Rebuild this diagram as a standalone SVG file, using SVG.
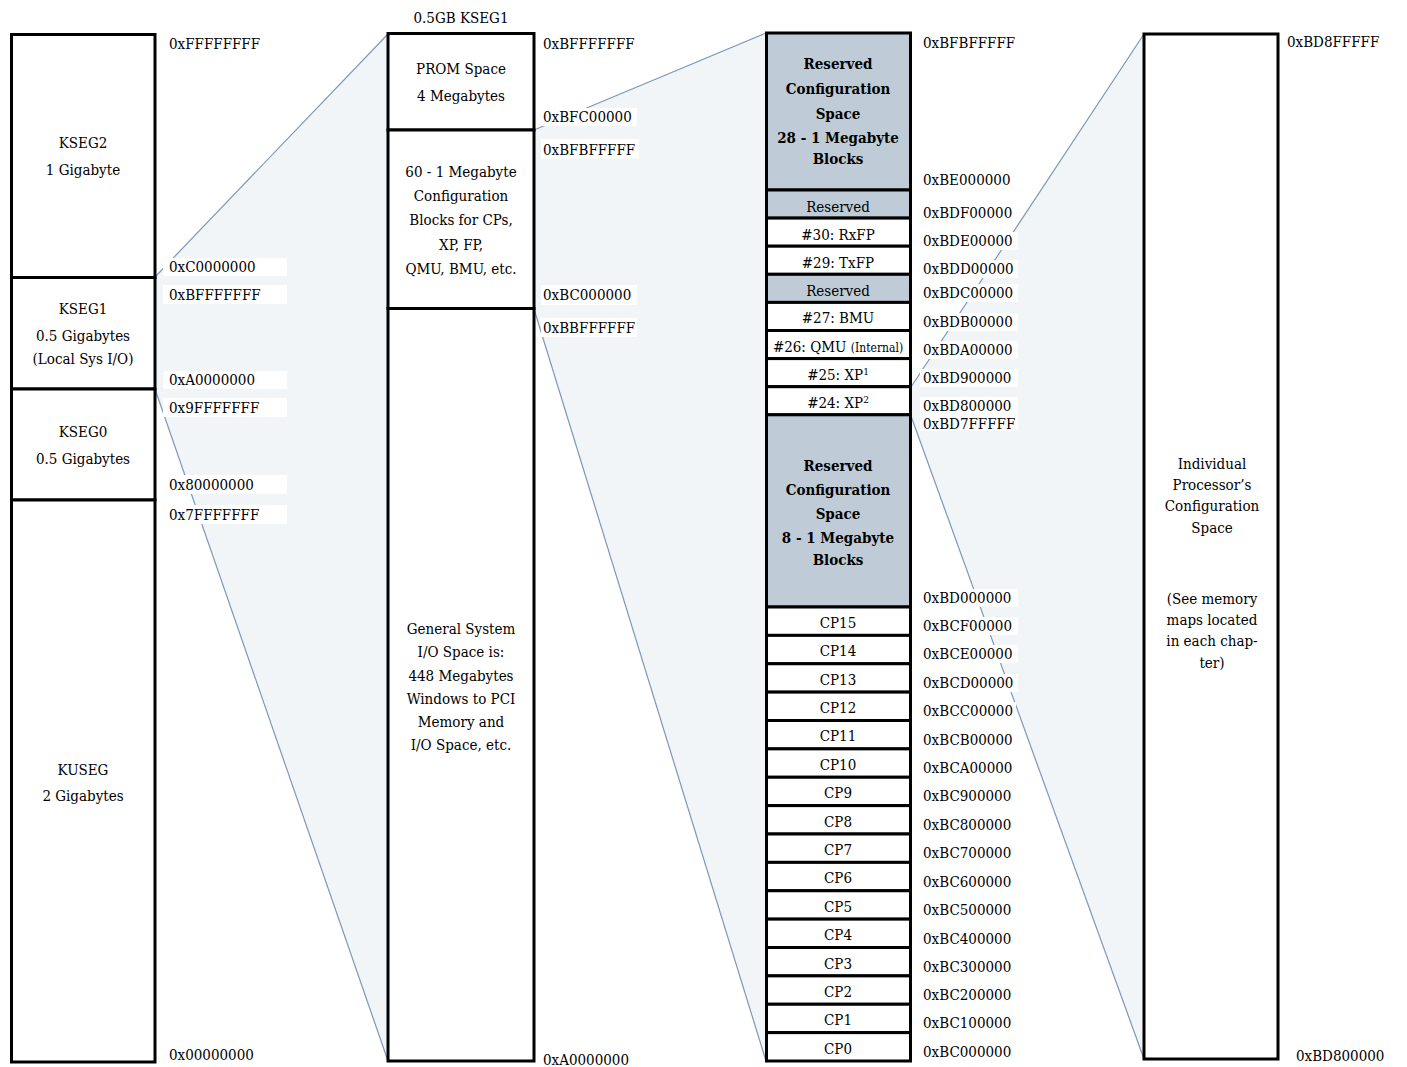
<svg xmlns="http://www.w3.org/2000/svg" width="1407" height="1067" viewBox="0 0 1407 1067">
<style>
text{font-family:"DejaVu Serif Condensed","DejaVu Serif","Liberation Serif",serif;font-size:15px;fill:#000}
.c{text-anchor:middle}
.b{font-weight:bold}
.box{fill:#fff;stroke:#000;stroke-width:3}
.gray{fill:#bfccd8;stroke:#000;stroke-width:3}
.shade{fill:#f1f5f7;stroke:none}
.edge{stroke:#7c98b8;stroke-width:1.2;fill:none}
.bg{fill:#fff}
.sm{font-size:12px}
.sup{font-size:10px}
</style>
<rect width="1407" height="1067" fill="#fff"/>
<g id="connectors">
<polygon class="shade" points="155,277 388,34 388,1061 155,389"/>
<line class="edge" x1="155" y1="277" x2="388" y2="34"/>
<line class="edge" x1="155" y1="389" x2="388" y2="1061"/>
<polygon class="shade" points="534,130 766,33 766,1061 534,309"/>
<line class="edge" x1="534" y1="130" x2="766" y2="33"/>
<line class="edge" x1="534" y1="309" x2="766" y2="1061"/>
<polygon class="shade" points="911,387 1144,34 1144,1059 911,416"/>
<line class="edge" x1="911" y1="387" x2="1144" y2="34"/>
<line class="edge" x1="911" y1="416" x2="1144" y2="1059"/>
</g>
<g id="col1">
<g id="kseg2"><rect class="box" x="11.5" y="34.5" width="143.5" height="243"/><text class="c" x="83" y="148">KSEG2</text><text class="c" x="83" y="175">1 Gigabyte</text></g>
<g id="kseg1"><rect class="box" x="11.5" y="277.5" width="143.5" height="111.5"/><text class="c" x="83" y="314">KSEG1</text><text class="c" x="83" y="341">0.5 Gigabytes</text><text class="c" x="83" y="364">(Local Sys I/O)</text></g>
<g id="kseg0"><rect class="box" x="11.5" y="389" width="143.5" height="111"/><text class="c" x="83" y="437">KSEG0</text><text class="c" x="83" y="464">0.5 Gigabytes</text></g>
<g id="kuseg"><rect class="box" x="11.5" y="500" width="143.5" height="562"/><text class="c" x="83" y="775">KUSEG</text><text class="c" x="83" y="801">2 Gigabytes</text></g>
</g>
<g id="col1-labels">
<text x="169" y="49">0xFFFFFFFF</text>
<rect class="bg" x="163" y="258" width="124" height="18"/><text x="169" y="272">0xC0000000</text>
<rect class="bg" x="163" y="285" width="124" height="19"/><text x="169" y="300">0xBFFFFFFF</text>
<rect class="bg" x="163" y="371" width="124" height="18"/><text x="169" y="385">0xA0000000</text>
<rect class="bg" x="163" y="398" width="124" height="19"/><text x="169" y="413">0x9FFFFFFF</text>
<rect class="bg" x="163" y="475" width="124" height="19"/><text x="169" y="490">0x80000000</text>
<rect class="bg" x="163" y="505" width="124" height="19"/><text x="169" y="520">0x7FFFFFFF</text>
<text x="169" y="1060">0x00000000</text>
</g>
<g id="col2">
<text class="c" x="461" y="23">0.5GB KSEG1</text>
<g id="prom"><rect class="box" x="388" y="33.5" width="146" height="96.5"/><text class="c" x="461" y="74">PROM Space</text><text class="c" x="461" y="101">4 Megabytes</text></g>
<g id="cfgblocks"><rect class="box" x="388" y="130" width="146" height="178.5"/><text class="c" x="461" y="177">60 - 1 Megabyte</text><text class="c" x="461" y="201">Configuration</text><text class="c" x="461" y="225">Blocks for CPs,</text><text class="c" x="461" y="250">XP, FP,</text><text class="c" x="461" y="274">QMU, BMU, etc.</text></g>
<g id="gensys"><rect class="box" x="388" y="308.5" width="146" height="752.5"/><text class="c" x="461" y="634">General System</text><text class="c" x="461" y="657">I/O Space is:</text><text class="c" x="461" y="681">448 Megabytes</text><text class="c" x="461" y="704">Windows to PCI</text><text class="c" x="461" y="727">Memory and</text><text class="c" x="461" y="750">I/O Space, etc.</text></g>
</g>
<g id="col2-labels">
<text x="543" y="49">0xBFFFFFFF</text>
<rect class="bg" x="541" y="108" width="96" height="18"/><text x="543" y="122">0xBFC00000</text>
<rect class="bg" x="541" y="139" width="98" height="20"/><text x="543" y="155">0xBFBFFFFF</text>
<rect class="bg" x="541" y="285" width="96" height="20"/><text x="543" y="300">0xBC000000</text>
<rect class="bg" x="541" y="318" width="96" height="19"/><text x="543" y="333">0xBBFFFFFF</text>
<text x="543" y="1065">0xA0000000</text>
</g>
<g id="col3">
<g id="res28"><rect class="gray" x="766.5" y="33" width="144" height="157"/><text class="c b" x="838" y="69">Reserved</text><text class="c b" x="838" y="94">Configuration</text><text class="c b" x="838" y="119">Space</text><text class="c b" x="838" y="143">28 - 1 Megabyte</text><text class="c b" x="838" y="164">Blocks</text></g>
<g id="res31"><rect class="gray" x="766.5" y="190" width="144" height="28.1"/><text class="c" x="838" y="212">Reserved</text></g>
<g id="n30"><rect class="box" x="766.5" y="218.1" width="144" height="28.1"/><text class="c" x="838" y="240">#30: RxFP</text></g>
<g id="n29"><rect class="box" x="766.5" y="246.2" width="144" height="28.1"/><text class="c" x="838" y="268">#29: TxFP</text></g>
<g id="res28b"><rect class="gray" x="766.5" y="274.3" width="144" height="28.1"/><text class="c" x="838" y="296">Reserved</text></g>
<g id="n27"><rect class="box" x="766.5" y="302.4" width="144" height="28.1"/><text class="c" x="838" y="323">#27: BMU</text></g>
<g id="n26"><rect class="box" x="766.5" y="330.5" width="144" height="28.1"/><text class="c" x="838" y="352">#26: QMU <tspan class="sm">(Internal)</tspan></text></g>
<g id="n25"><rect class="box" x="766.5" y="358.6" width="144" height="28.1"/><text class="c" x="838" y="380">#25: XP<tspan class="sup" dy="-5">1</tspan></text></g>
<g id="n24"><rect class="box" x="766.5" y="386.7" width="144" height="28.1"/><text class="c" x="838" y="408">#24: XP<tspan class="sup" dy="-5">2</tspan></text></g>
<g id="res8"><rect class="gray" x="766.5" y="414.8" width="144" height="192.2"/><text class="c b" x="838" y="471">Reserved</text><text class="c b" x="838" y="495">Configuration</text><text class="c b" x="838" y="519">Space</text><text class="c b" x="838" y="543">8 - 1 Megabyte</text><text class="c b" x="838" y="565">Blocks</text></g>
<g id="cp15"><rect class="box" x="766.5" y="607" width="144" height="28.375"/><text class="c" x="838" y="627.5">CP15</text></g>
<g id="cp14"><rect class="box" x="766.5" y="635.375" width="144" height="28.375"/><text class="c" x="838" y="656">CP14</text></g>
<g id="cp13"><rect class="box" x="766.5" y="663.75" width="144" height="28.375"/><text class="c" x="838" y="684.5">CP13</text></g>
<g id="cp12"><rect class="box" x="766.5" y="692.125" width="144" height="28.375"/><text class="c" x="838" y="713">CP12</text></g>
<g id="cp11"><rect class="box" x="766.5" y="720.5" width="144" height="28.375"/><text class="c" x="838" y="741.4">CP11</text></g>
<g id="cp10"><rect class="box" x="766.5" y="748.875" width="144" height="28.375"/><text class="c" x="838" y="769.8">CP10</text></g>
<g id="cp9"><rect class="box" x="766.5" y="777.25" width="144" height="28.375"/><text class="c" x="838" y="798.2">CP9</text></g>
<g id="cp8"><rect class="box" x="766.5" y="805.625" width="144" height="28.375"/><text class="c" x="838" y="826.6">CP8</text></g>
<g id="cp7"><rect class="box" x="766.5" y="834" width="144" height="28.375"/><text class="c" x="838" y="855">CP7</text></g>
<g id="cp6"><rect class="box" x="766.5" y="862.375" width="144" height="28.375"/><text class="c" x="838" y="883.4">CP6</text></g>
<g id="cp5"><rect class="box" x="766.5" y="890.75" width="144" height="28.375"/><text class="c" x="838" y="911.8">CP5</text></g>
<g id="cp4"><rect class="box" x="766.5" y="919.125" width="144" height="28.375"/><text class="c" x="838" y="940.2">CP4</text></g>
<g id="cp3"><rect class="box" x="766.5" y="947.5" width="144" height="28.375"/><text class="c" x="838" y="968.6">CP3</text></g>
<g id="cp2"><rect class="box" x="766.5" y="975.875" width="144" height="28.375"/><text class="c" x="838" y="997">CP2</text></g>
<g id="cp1"><rect class="box" x="766.5" y="1004.25" width="144" height="28.375"/><text class="c" x="838" y="1025.4">CP1</text></g>
<g id="cp0"><rect class="box" x="766.5" y="1032.625" width="144" height="28.375"/><text class="c" x="838" y="1053.8">CP0</text></g>
</g>
<g id="col3-labels">
<text x="923" y="48">0xBFBFFFFF</text>
<text x="923" y="185">0xBE000000</text>
<rect class="bg" x="920" y="204" width="98" height="18"/><text x="923" y="218">0xBDF00000</text>
<rect class="bg" x="920" y="232" width="98" height="18"/><text x="923" y="246">0xBDE00000</text>
<rect class="bg" x="920" y="260" width="98" height="18"/><text x="923" y="274">0xBDD00000</text>
<rect class="bg" x="920" y="284" width="98" height="18"/><text x="923" y="298">0xBDC00000</text>
<rect class="bg" x="920" y="313" width="98" height="18"/><text x="923" y="327">0xBDB00000</text>
<rect class="bg" x="920" y="341" width="98" height="18"/><text x="923" y="355">0xBDA00000</text>
<rect class="bg" x="920" y="369" width="98" height="18"/><text x="923" y="383">0xBD900000</text>
<rect class="bg" x="920" y="397" width="98" height="34"/><text x="923" y="411">0xBD800000</text>
<text x="923" y="429">0xBD7FFFFF</text>
<rect class="bg" x="920" y="589" width="98" height="18"/><text x="923" y="603">0xBD000000</text>
<rect class="bg" x="920" y="617" width="98" height="18"/><text x="923" y="631">0xBCF00000</text>
<rect class="bg" x="920" y="645" width="98" height="18"/><text x="923" y="659">0xBCE00000</text>
<rect class="bg" x="920" y="674" width="98" height="18"/><text x="923" y="688">0xBCD00000</text>
<rect class="bg" x="920" y="702" width="96" height="18"/><text x="923" y="716">0xBCC00000</text>
<text x="923" y="745">0xBCB00000</text>
<text x="923" y="773">0xBCA00000</text>
<text x="923" y="801">0xBC900000</text>
<text x="923" y="830">0xBC800000</text>
<text x="923" y="858">0xBC700000</text>
<text x="923" y="887">0xBC600000</text>
<text x="923" y="915">0xBC500000</text>
<text x="923" y="944">0xBC400000</text>
<text x="923" y="972">0xBC300000</text>
<text x="923" y="1000">0xBC200000</text>
<text x="923" y="1028">0xBC100000</text>
<text x="923" y="1057">0xBC000000</text>
</g>
<g id="col4">
<g id="proc"><rect class="box" x="1144" y="34" width="134" height="1025"/>
<text class="c" x="1212" y="469">Individual</text><text class="c" x="1212" y="490">Processor’s</text><text class="c" x="1212" y="511">Configuration</text><text class="c" x="1212" y="533">Space</text>
<text class="c" x="1212" y="604">(See memory</text><text class="c" x="1212" y="625">maps located</text><text class="c" x="1212" y="646">in each chap-</text><text class="c" x="1212" y="668">ter)</text></g>
<text x="1287" y="47">0xBD8FFFFF</text>
<text x="1296" y="1061">0xBD800000</text>
</g>
</svg>
